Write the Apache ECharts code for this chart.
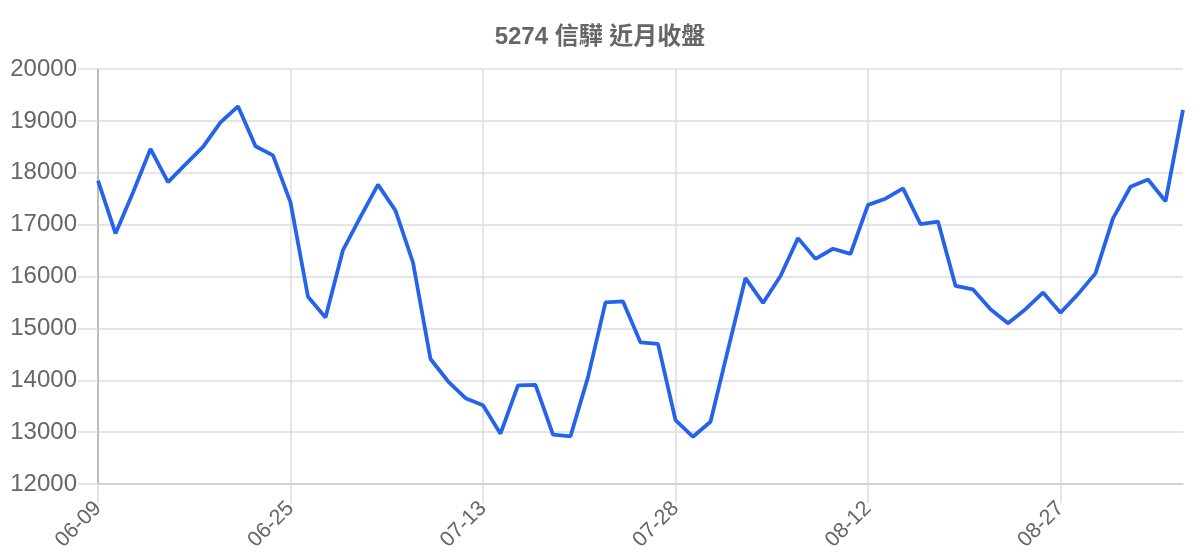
<!DOCTYPE html>
<html>
<head>
<meta charset="utf-8">
<script src="https://cdn.jsdelivr.net/npm/echarts@6/dist/echarts.min.js"></script>
<style>
html,body{margin:0;padding:0;background:#fff;}
#chart{width:1200px;height:560px;}
</style>
</head>
<body>
<div id="chart"></div>
<script>
const chartTitle = "5274 信驊 近月收盤";
const dates = [
  "06-09","06-10","06-11","06-12","06-15","06-16","06-17","06-18","06-22","06-23","06-24",
  "06-25","06-26","06-29","06-30","07-01","07-02","07-03","07-06","07-07","07-08","07-10",
  "07-13","07-14","07-15","07-16","07-17","07-20","07-21","07-22","07-23","07-24","07-27",
  "07-28","07-29","07-30","07-31","08-03","08-04","08-05","08-06","08-07","08-10","08-11",
  "08-12","08-13","08-14","08-17","08-18","08-19","08-20","08-21","08-24","08-25","08-26",
  "08-27","08-28","08-31","09-01","09-02","09-03","09-04","09-07"
];
const closes = [
  17850,16830,17620,18460,17820,18160,18500,18970,19280,18510,18335,
  17430,15610,15210,16510,17150,17770,17270,16270,14410,13980,13655,
  13520,12970,13900,13910,12950,12920,14060,15500,15520,14730,14700,
  13230,12910,13200,14590,15970,15490,16010,16740,16340,16535,16435,
  17380,17500,17700,17010,17060,15820,15750,15370,15100,15370,15690,
  15300,15660,16060,17120,17730,17870,17450,19210
];
const yMin = 12000, yMax = 20000, yStep = 1000;

const chart = echarts.init(document.getElementById('chart'));
chart.setOption({
  animation: false,
  backgroundColor: '#ffffff',
  title: {
    text: chartTitle,
    left: 'center',
    top: 20,
    textStyle: {
      fontSize: 24,
      fontWeight: 'bold',
      color: '#666666',
      fontFamily: 'Liberation Sans, Arial, "Noto Sans CJK TC", sans-serif'
    }
  },
  grid: { left: 98, right: 17, top: 69, bottom: 76, containLabel: false },
  xAxis: {
    type: 'category',
    data: dates,
    boundaryGap: false,
    axisLine: { show: true, lineStyle: { color: '#cccccc', width: 1.5 } },
    axisTick: { show: true, inside: false, length: 19, interval: 10, lineStyle: { color: '#dddddd', width: 1.5 } },
    axisLabel: {
      interval: 10,
      rotate: 45,
      margin: 21,
      fontSize: 21.5,
      color: '#666666',
      fontFamily: 'Liberation Sans, Arial, sans-serif'
    },
    splitLine: { show: true, interval: 10, lineStyle: { color: '#dddddd', width: 1.5 } }
  },
  yAxis: {
    type: 'value',
    min: yMin,
    max: yMax,
    interval: yStep,
    axisLine: { show: true, lineStyle: { color: '#aaaaaa', width: 1.5 } },
    axisTick: { show: true, inside: false, length: 20, lineStyle: { color: '#dddddd', width: 1.5 } },
    axisLabel: {
      margin: 21,
      fontSize: 24,
      color: '#666666',
      fontFamily: 'Liberation Sans, Arial, sans-serif',
      formatter: function (v) { return String(v); }
    },
    splitLine: { show: true, lineStyle: { color: '#dddddd', width: 1.5 } }
  },
  series: [{
    type: 'line',
    data: closes,
    showSymbol: false,
    symbol: 'none',
    lineStyle: { color: '#2563eb', width: 3.8 },
    itemStyle: { color: '#2563eb' }
  }]
});
</script>
</body>
</html>
